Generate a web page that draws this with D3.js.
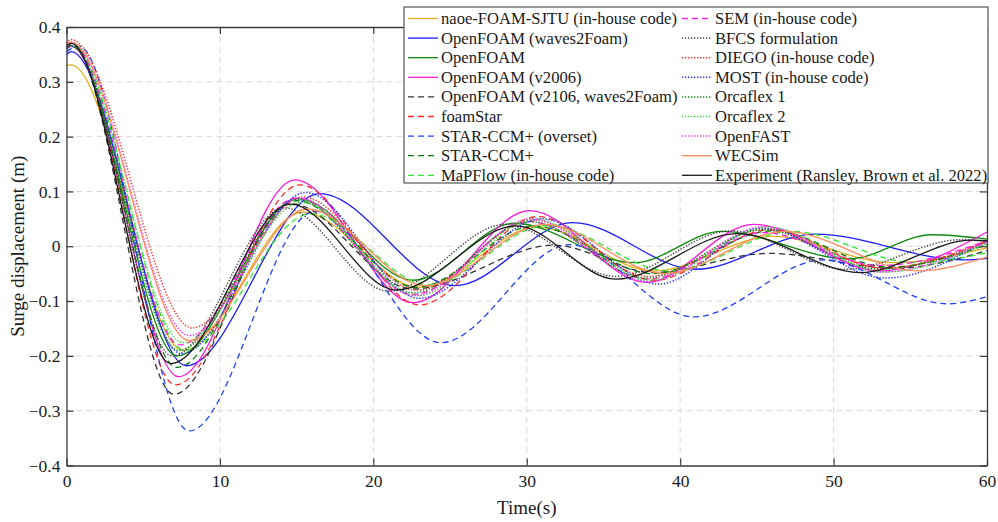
<!DOCTYPE html>
<html>
<head>
<meta charset="utf-8">
<script src="https://cdn.jsdelivr.net/npm/d3@7"></script>
<style>
  body { margin: 0; background: #fff; }
</style>
</head>
<body>
<div id="chart"></div>
<script>
// axis ticks
var xTicks = [0, 10, 20, 30, 40, 50, 60]
var yTicks = [-0.4, -0.3, -0.2, -0.1, 0, 0.1, 0.2, 0.3, 0.4]

var naoeTime = [0, 0.3, 7.6, 15.4, 23.0, 30.7, 38.3, 46.0, 53.8, 60]
var naoeSurge = [0.33, 0.331, -0.19, 0.062, -0.075, 0.035, -0.045, 0.018, -0.03, -0.003]

var w2fTime = [0, 0.3, 7.8, 16.5, 25.3, 33.0, 41.0, 48.8, 58.5, 60]
var w2fSurge = [0.35, 0.355, -0.218, 0.096, -0.072, 0.043, -0.042, 0.022, -0.025, -0.022]

var ofTime = [0, 0.3, 7.2, 15.1, 22.6, 29.2, 37.0, 42.7, 51.0, 56.4, 60]
var ofSurge = [0.36, 0.365, -0.2, 0.087, -0.062, 0.042, -0.03, 0.027, -0.023, 0.021, 0.013]

var v2006Time = [0, 0.3, 7.3, 14.9, 22.6, 30.2, 37.8, 44.8, 53.0, 60]
var v2006Surge = [0.36, 0.365, -0.238, 0.121, -0.103, 0.065, -0.066, 0.04, -0.045, 0.026]

var v2106Time = [0, 0.3, 7.0, 14.6, 22.6, 31.8, 38.2, 45.8, 54.0, 60]
var v2106Surge = [0.365, 0.37, -0.27, 0.078, -0.078, 0.002, -0.048, -0.013, -0.04, -0.008]

var foamStarTime = [0, 0.3, 7.1, 15.2, 23.0, 30.7, 38.3, 45.8, 53.3, 60]
var foamStarSurge = [0.365, 0.372, -0.253, 0.112, -0.107, 0.054, -0.062, 0.03, -0.04, 0.01]

var overTime = [0, 0.8, 8.0, 16.2, 24.4, 32.8, 40.9, 49.3, 57.4, 60]
var overSurge = [0.355, 0.365, -0.337, 0.064, -0.176, 0.003, -0.129, -0.025, -0.105, -0.092]

var starTime = [0, 0.3, 7.2, 15.0, 22.8, 30.5, 38.2, 46.0, 53.6, 60]
var starSurge = [0.36, 0.367, -0.221, 0.083, -0.075, 0.037, -0.05, 0.028, -0.038, 0.003]

var mapTime = [0, 0.3, 7.7, 15.9, 23.6, 31.3, 39.3, 47.3, 55.3, 60]
var mapSurge = [0.365, 0.37, -0.19, 0.059, -0.07, 0.038, -0.045, 0.027, -0.03, -0.012]

var semTime = [0, 0.3, 7.4, 15.0, 22.6, 30.2, 37.9, 45.4, 53.0, 60]
var semSurge = [0.365, 0.37, -0.18, 0.088, -0.088, 0.045, -0.06, 0.025, -0.035, 0.01]

var bfcsTime = [0, 0.3, 6.9, 14.2, 21.0, 28.6, 35.8, 43.3, 50.8, 58.3, 60]
var bfcsSurge = [0.365, 0.372, -0.2, 0.07, -0.082, 0.04, -0.055, 0.028, -0.042, 0.012, 0.008]

var diegoTime = [0, 0.3, 8.2, 15.4, 22.8, 30.4, 38.0, 45.6, 53.2, 60]
var diegoSurge = [0.37, 0.377, -0.149, 0.09, -0.08, 0.048, -0.055, 0.032, -0.04, 0.008]

var mostTime = [0, 0.3, 7.5, 15.6, 23.0, 31.0, 38.6, 45.3, 53.4, 60]
var mostSurge = [0.36, 0.365, -0.196, 0.098, -0.095, 0.05, -0.069, 0.033, -0.058, 0.01]

var orca1Time = [0, 0.3, 7.3, 15.0, 22.6, 30.2, 37.8, 45.4, 53.0, 60]
var orca1Surge = [0.36, 0.366, -0.19, 0.085, -0.085, 0.045, -0.058, 0.03, -0.042, 0.006]

var orca2Time = [0, 0.3, 7.6, 15.3, 22.9, 30.5, 38.1, 45.7, 53.3, 60]
var orca2Surge = [0.365, 0.372, -0.176, 0.08, -0.09, 0.05, -0.062, 0.035, -0.047, 0.004]

var fastTime = [0, 0.3, 8.0, 15.2, 22.7, 30.3, 37.9, 45.5, 53.1, 60]
var fastSurge = [0.365, 0.372, -0.163, 0.088, -0.09, 0.05, -0.065, 0.036, -0.047, 0.008]

var wecTime = [0, 0.3, 8.0, 15.7, 23.4, 31.2, 39.0, 46.8, 55.5, 60]
var wecSurge = [0.365, 0.372, -0.172, 0.068, -0.072, 0.04, -0.05, 0.027, -0.045, -0.02]

var expTime = [0, 0.3, 6.8, 14.6, 21.5, 29.3, 35.8, 43.7, 51.7, 59.0, 60]
var expSurge = [0.365, 0.37, -0.214, 0.077, -0.08, 0.037, -0.06, 0.023, -0.048, 0.011, 0.01]

var names = [
  "naoe-FOAM-SJTU (in-house code)", "OpenFOAM (waves2Foam)", "OpenFOAM", "OpenFOAM (v2006)",
  "OpenFOAM (v2106, waves2Foam)", "foamStar", "STAR-CCM+ (overset)", "STAR-CCM+",
  "MaPFlow (in-house code)", "SEM (in-house code)", "BFCS formulation", "DIEGO (in-house code)",
  "MOST (in-house code)", "Orcaflex 1", "Orcaflex 2", "OpenFAST", "WECSim",
  "Experiment (Ransley, Brown et al. 2022)"
]
var times = [naoeTime, w2fTime, ofTime, v2006Time, v2106Time, foamStarTime, overTime, starTime,
  mapTime, semTime, bfcsTime, diegoTime, mostTime, orca1Time, orca2Time, fastTime, wecTime, expTime]
var surges = [naoeSurge, w2fSurge, ofSurge, v2006Surge, v2106Surge, foamStarSurge, overSurge, starSurge,
  mapSurge, semSurge, bfcsSurge, diegoSurge, mostSurge, orca1Surge, orca2Surge, fastSurge, wecSurge, expSurge]

// styles
var colors = ["#e0b020", "#1a1aff", "#0f8a0f", "#f51ad9", "#333333", "#ff2a2a", "#2040ff", "#0a7a0a",
  "#33e633", "#ff20e0", "#444444", "#ff3030", "#2030ff", "#118811", "#33e633", "#ff30ff", "#ff8c5a", "#1a1a1a"]
var dash = ["solid", "solid", "solid", "solid", "dash", "dash", "dash", "dash",
  "dash", "dash", "dot", "dot", "dot", "dot", "dot", "dot", "solid", "solid"]
var dashArray = { solid: null, dash: "6,4", dot: "1.3,1.7" }

var serif = "'Liberation Serif', 'Times New Roman', serif"

var width = 998
var height = 522
var margin = { left: 66.5, right: 11, top: 27, bottom: 56.5 }

var svg = d3.select("#chart").append("svg")
  .attr("width", width)
  .attr("height", height)
  .attr("font-family", serif)

var x = d3.scaleLinear().domain([0, 60]).range([margin.left, width - margin.right])
var y = d3.scaleLinear().domain([-0.4, 0.4]).range([height - margin.bottom, margin.top])

var axisColor = "#3a3a3a"

// grid lines
svg.append("g").selectAll("line")
  .data(xTicks.slice(1, -1))
  .enter().append("line")
  .attr("x1", d => x(d)).attr("x2", d => x(d))
  .attr("y1", y(0.4)).attr("y2", y(-0.4))
  .attr("stroke", "#d8d8d8").attr("stroke-dasharray", "6,4")

svg.append("g").selectAll("line")
  .data(yTicks.slice(1, -1))
  .enter().append("line")
  .attr("x1", x(0)).attr("x2", x(60))
  .attr("y1", d => y(d)).attr("y2", d => y(d))
  .attr("stroke", "#d8d8d8").attr("stroke-dasharray", "6,4")

// curves
var line = d3.line()
  .x(d => x(d[0]))
  .y(d => y(d[1]))
  .curve(d3.curveMonotoneX)

var plot = svg.append("g")
for (var i = 0; i < names.length; i++) {
  var pts = times[i].map((t, k) => [t, surges[i][k]])
  plot.append("path")
    .attr("d", line(pts))
    .attr("fill", "none")
    .attr("stroke", colors[i])
    .attr("stroke-width", dash[i] == "dot" ? 1.5 : 1.3)
    .attr("stroke-dasharray", dashArray[dash[i]])
}

// axes with inward ticks, box on all sides
var xAxis = d3.axisBottom(x).tickValues(xTicks).tickSizeInner(-7).tickSizeOuter(0).tickPadding(9)
var yAxis = d3.axisLeft(y).tickValues(yTicks).tickSizeInner(-7).tickSizeOuter(0).tickPadding(6)
  .tickFormat(d => d == 0 ? "0" : d3.format(".1f")(d))

svg.append("g").attr("transform", "translate(0," + y(-0.4) + ")").call(xAxis)
svg.append("g").attr("transform", "translate(" + x(0) + ",0)").call(yAxis)
svg.append("g").attr("transform", "translate(0," + y(0.4) + ")")
  .call(d3.axisTop(x).tickValues(xTicks).tickSizeInner(-7).tickSizeOuter(0).tickFormat(""))
svg.append("g").attr("transform", "translate(" + x(60) + ",0)")
  .call(d3.axisRight(y).tickValues(yTicks).tickSizeInner(-7).tickSizeOuter(0).tickFormat(""))

svg.selectAll(".domain").attr("stroke", axisColor).attr("stroke-width", 1.3)
svg.selectAll(".tick line").attr("stroke", axisColor).attr("stroke-width", 1.2)
svg.selectAll(".tick text")
  .attr("font-family", serif)
  .attr("font-size", 17.5)
  .attr("fill", "#1a1a1a")

// axis labels
svg.append("text")
  .attr("x", (x(0) + x(60)) / 2)
  .attr("y", 514)
  .attr("text-anchor", "middle")
  .attr("font-size", 19)
  .attr("fill", "#1a1a1a")
  .text("Time(s)")

svg.append("text")
  .attr("transform", "translate(24," + y(0) + ") rotate(-90)")
  .attr("text-anchor", "middle")
  .attr("font-size", 19)
  .attr("fill", "#1a1a1a")
  .text("Surge displacement (m)")

// legend, two columns of nine
var legend = svg.append("g")
legend.append("rect")
  .attr("x", 404).attr("y", 7)
  .attr("width", 584).attr("height", 176)
  .attr("fill", "#fff")
  .attr("stroke", "#555").attr("stroke-width", 1.2)

var colX = [408, 682]
var rowY0 = 18.5
var rowStep = 19.6
names.forEach(function (n, i) {
  var col = Math.floor(i / 9)
  var row = i % 9
  var ly = rowY0 + row * rowStep
  legend.append("line")
    .attr("x1", colX[col]).attr("x2", colX[col] + 30)
    .attr("y1", ly).attr("y2", ly)
    .attr("stroke", colors[i])
    .attr("stroke-width", dash[i] == "dot" ? 1.5 : 1.3)
    .attr("stroke-dasharray", dashArray[dash[i]])
  legend.append("text")
    .attr("x", colX[col] + 33)
    .attr("y", ly + 5.5)
    .attr("font-size", 16.6)
    .attr("fill", "#1a1a1a")
    .text(n)
})
</script>
</body>
</html>
